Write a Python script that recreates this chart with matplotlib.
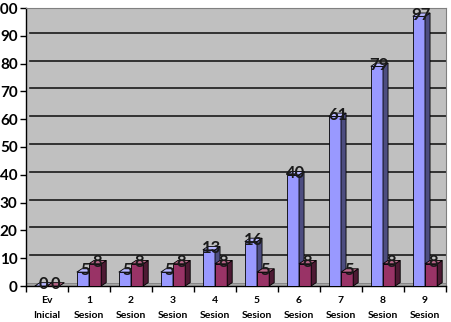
import matplotlib.pyplot as plt
from matplotlib.patches import Polygon, Rectangle
from matplotlib.transforms import offset_copy

categories = ["Ev\nInicial", "1\nSesion", "2\nSesion", "3\nSesion", "4\nSesion",
              "5\nSesion", "6\nSesion", "7\nSesion", "8\nSesion", "9\nSesion"]
serie_a = [0, 5, 5, 5, 13, 16, 40, 61, 79, 97]
serie_b = [0, 8, 8, 8, 8, 5, 8, 5, 8, 8]

# front, side, top colours for each series
col_a = ("#9999FF", "#4D4D80", "#B8B8FF")
col_b = ("#993366", "#4D1A33", "#B86688")

W = 0.29      # bar width in category units
DX = 0.12     # depth offset (x, category units)
DY = 1.2      # depth offset (y, value units)

plt.rcParams['font.family'] = ['Lato', 'DejaVu Sans']

fig = plt.figure(figsize=(4.52, 3.22), dpi=100)
ax = fig.add_axes([26 / 452, 36 / 322, 420 / 452, 278 / 322])
ax.set_xlim(-0.5, len(categories) - 0.5)
ax.set_ylim(0, 100)
ax.set_facecolor("#C0C0C0")

# back wall gridlines, shifted like the 3d wall
grid_tr = offset_copy(ax.transData, fig=fig, x=4, y=3, units='dots')
for v in range(10, 101, 10):
    ax.plot([-0.5, len(categories) - 0.5], [v, v], color="#1a1a1a", lw=1.2,
            transform=grid_tr, clip_on=True, zorder=1)

# floor band
ax.add_patch(Rectangle((-0.5, 0), len(categories), DY, facecolor="#A6A6A6",
                       edgecolor="#7f7f7f", lw=0.6, zorder=1.5))


def bar3d(x0, h, cols):
    x1 = x0 + W
    ax.add_patch(Rectangle((x0, 0), W, h, facecolor=cols[0], edgecolor="black",
                           lw=0.6, zorder=3))
    ax.add_patch(Polygon([(x1, 0), (x1, h), (x1 + DX, h + DY), (x1 + DX, DY)],
                         closed=True, facecolor=cols[1], edgecolor="black",
                         lw=0.6, zorder=3))
    ax.add_patch(Polygon([(x0, h), (x1, h), (x1 + DX, h + DY), (x0 + DX, h + DY)],
                         closed=True, facecolor=cols[2], edgecolor="black",
                         lw=0.6, zorder=3))


for i, (a, b) in enumerate(zip(serie_a, serie_b)):
    bar3d(i - W, a, col_a)
    bar3d(i, b, col_b)

for i, (a, b) in enumerate(zip(serie_a, serie_b)):
    ax.text(i - W / 2 + DX / 2, a + DY / 2, str(a), ha="center", va="center",
            fontsize=12, fontweight="bold", color="#1a1a1a", zorder=5)
    ax.text(i + W / 2 + DX / 2, b + DY / 2, str(b), ha="center", va="center",
            fontsize=12, fontweight="bold", color="#1a1a1a", zorder=5)

ax.set_yticks(range(0, 101, 10))
ax.tick_params(axis="y", labelsize=11, length=4, width=1, pad=2)
for t in ax.get_yticklabels():
    t.set_fontweight("bold")

ax.set_xticks(range(len(categories)))
ax.set_xticklabels(categories, fontsize=7.5, fontweight="bold", linespacing=1.9)
ax.set_xticks([i + 0.5 for i in range(-1, len(categories))], minor=True)
ax.tick_params(axis="x", which="major", length=0, pad=7)
ax.tick_params(axis="x", which="minor", length=4, width=1)

for s in ("top", "right"):
    ax.spines[s].set_color("#808080")
ax.spines["left"].set_linewidth(1)
ax.spines["bottom"].set_linewidth(1)

fig.savefig("out.png", dpi=100)
